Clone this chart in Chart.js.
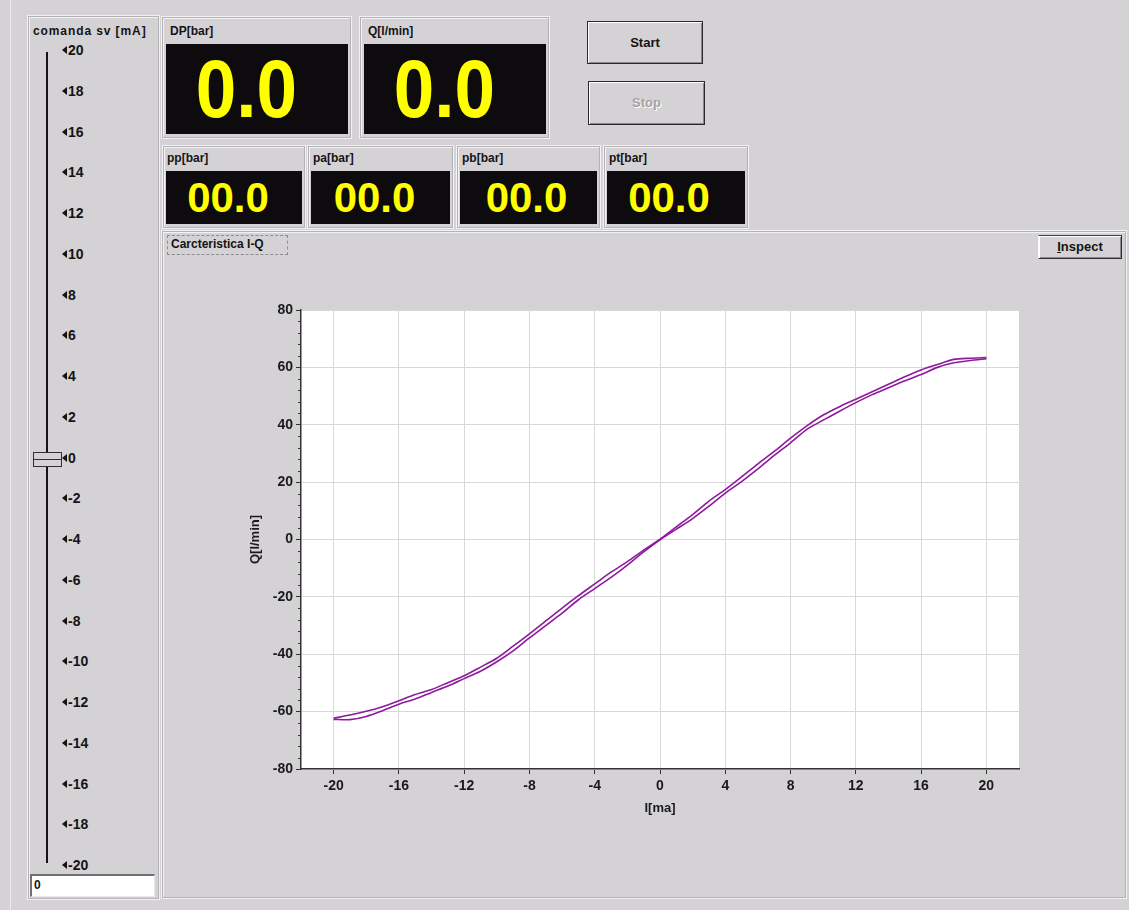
<!DOCTYPE html>
<html>
<head>
<meta charset="utf-8">
<script src="https://cdn.jsdelivr.net/npm/chart.js@4.4.0/dist/chart.umd.min.js"></script>
<style>
  body { margin: 0; width: 1129px; height: 910px; background: #d4d2d5; position: relative; overflow: hidden;
         font-family: "Liberation Sans", Arial, sans-serif; font-weight: bold; color: #141414; }
  .abs { position: absolute; box-sizing: border-box; }
  .frame { border: 1px solid #b4b2b6; box-shadow: 0 0 0 1px #f2f1f3, inset 1px 1px 0 #f2f1f3; }
  .lbl { font-size: 12px; }
  .screen { background: #0d0b0d; color: #ffff00; text-align: center; overflow: hidden; }
  .big { font-size: 81px; line-height: 90px; display: inline-block; transform: scaleX(0.9); }
  .small { font-size: 42px; line-height: 53px; }
  .btn { border: 1px solid #2a2a2a; box-shadow: inset 1px 1px 0 #fff, inset -1px -1px 0 #8a888c;
         font-size: 13px; text-align: center; background: #d4d2d5; }
  .tick { font-size: 14px; left: 62px; height: 16px; line-height: 16px; }
  .tri { display: inline-block; width: 0; height: 0; border-top: 4px solid transparent; border-bottom: 4px solid transparent;
         border-right: 5px solid #141414; margin-right: 1px; vertical-align: 1px; }
</style>
</head>
<body>
<div class="abs" style="left:10px;top:0;width:1px;height:910px;background:#ecebed"></div>

<!-- slider panel -->
<div class="abs frame" style="left:28px;top:16px;width:131px;height:883px"></div>
<div class="abs lbl" style="left:33px;top:24px;letter-spacing:0.9px">comanda sv [mA]</div>
<div class="abs" style="left:46px;top:52px;width:2px;height:811px;background:#141414"></div>
<div id="sliderTicks"></div>
<div class="abs" style="left:33px;top:452px;width:29px;height:15px;border:1px solid #303030;background:#d4d2d5">
  <div style="position:absolute;left:0;right:0;top:6px;height:1px;background:#303030"></div>
</div>
<div class="abs" style="left:30px;top:874px;width:125px;height:23px;background:#fff;border-top:2px solid #707070;border-left:2px solid #707070;border-bottom:1px solid #e8e8e8;border-right:1px solid #e8e8e8;font-size:12px;line-height:19px;padding-left:2px">0</div>

<!-- big displays -->
<div class="abs frame" style="left:162px;top:17px;width:189px;height:121px"></div>
<div class="abs lbl" style="left:170px;top:24px">DP[bar]</div>
<div class="abs screen" style="left:166px;top:44px;width:182px;height:90px"><span class="big" style="margin-left:-22px">0.0</span></div>

<div class="abs frame" style="left:360px;top:17px;width:189px;height:121px"></div>
<div class="abs lbl" style="left:368px;top:24px">Q[l/min]</div>
<div class="abs screen" style="left:364px;top:44px;width:182px;height:90px"><span class="big" style="margin-left:-22px">0.0</span></div>

<div class="abs btn" style="left:587px;top:21px;width:116px;height:43px;line-height:41px">Start</div>
<div class="abs btn" style="left:588px;top:81px;width:117px;height:44px;line-height:42px;color:#a4a2a6;text-shadow:1px 1px 0 #fff">Stop</div>

<!-- small displays -->
<div class="abs frame" style="left:163px;top:146px;width:142px;height:82px"></div>
<div class="abs lbl" style="left:167px;top:151px">pp[bar]</div>
<div class="abs screen small" style="left:166px;top:171px;width:136px;height:53px;padding-right:12px">00.0</div>

<div class="abs frame" style="left:308px;top:146px;width:145px;height:82px"></div>
<div class="abs lbl" style="left:313px;top:151px">pa[bar]</div>
<div class="abs screen small" style="left:311px;top:171px;width:139px;height:53px;padding-right:12px">00.0</div>

<div class="abs frame" style="left:457px;top:146px;width:143px;height:82px"></div>
<div class="abs lbl" style="left:462px;top:151px">pb[bar]</div>
<div class="abs screen small" style="left:460px;top:171px;width:137px;height:53px;padding-right:4px">00.0</div>

<div class="abs frame" style="left:604px;top:146px;width:144px;height:82px"></div>
<div class="abs lbl" style="left:609px;top:151px">pt[bar]</div>
<div class="abs screen small" style="left:607px;top:171px;width:138px;height:53px;padding-right:14px">00.0</div>

<!-- chart container -->
<div class="abs frame" style="left:162px;top:231px;width:964px;height:667px"></div>
<div class="abs lbl" style="left:167px;top:235px;width:121px;height:20px;border:1px dashed #8e8c90;line-height:17px;padding-left:3px">Carcteristica I-Q</div>
<div class="abs btn" style="left:1038px;top:235px;width:84px;height:24px;line-height:22px;border-color:#404040 #303030 #303030 #f8f8f8"><u>I</u>nspect</div>

<canvas id="chart" class="abs" width="900" height="560" style="left:200px;top:290px"></canvas>

<script>
// Slider scale (comanda sv [mA])
const sliderLabels = [20, 18, 16, 14, 12, 10, 8, 6, 4, 2, 0, -2, -4, -6, -8, -10, -12, -14, -16, -18, -20];

// Characteristic I-Q: current [mA] and flow [l/min], two branches of the loop
const currentMA = [-20, -19, -18, -17, -16, -15, -14, -13, -12, -11, -10, -9, -8, -7, -6, -5, -4, -3, -2, -1,
  0, 1, 2, 3, 4, 5, 6, 7, 8, 9, 10, 11, 12, 13, 14, 15, 16, 17, 18, 19, 20];
const flowUp = [-62.3, -61.2, -59.9, -58.3, -56.2, -54.0, -52.3, -49.9, -47.5, -44.5, -41.4, -37.2, -32.9, -28.4,
  -23.9, -19.6, -15.5, -11.4, -7.7, -3.7, 0.1, 4.4, 8.7, 13.4, 17.4, 21.8, 26.4, 30.7, 35.3, 39.6, 43.4, 46.3,
  48.9, 51.5, 54.1, 56.7, 59.1, 61.0, 62.8, 63.2, 63.4];
const flowDown = [-62.7, -62.8, -61.7, -59.7, -57.4, -55.6, -53.3, -51.1, -48.5, -45.9, -42.6, -38.8, -34.3, -30.0,
  -25.7, -21.0, -17.1, -13.2, -8.9, -4.3, -0.1, 3.6, 7.3, 11.6, 16.2, 20.2, 24.6, 29.3, 33.7, 38.4, 41.6, 44.7,
  47.7, 50.5, 52.9, 55.3, 57.5, 60.0, 61.6, 62.4, 63.0];

// Axis ticks
const currentTicks = [-20, -16, -12, -8, -4, 0, 4, 8, 12, 16, 20];
const I_MIN = -22, I_MAX = 22;
const Q_MIN = -80, Q_MAX = 80, Q_STEP = 20, Q_MINOR = 4;

// Slider tick labels
const holder = document.getElementById('sliderTicks');
sliderLabels.forEach(function(v, i) {
  const d = document.createElement('div');
  d.className = 'abs tick';
  d.style.top = (42 + i * 40.75) + 'px';
  d.innerHTML = '<span class="tri"></span>' + v;
  holder.appendChild(d);
});

const FONT = '"Liberation Sans", Arial, sans-serif';
const PURPLE = '#8d1a9c';

// White plot area
const plotBackground = {
  id: 'plotBackground',
  beforeDraw(chart) {
    const a = chart.chartArea, ctx = chart.ctx;
    ctx.save();
    ctx.fillStyle = '#ffffff';
    ctx.fillRect(a.left, a.top, a.right - a.left, a.bottom - a.top);
    ctx.restore();
  }
};

// Short minor ticks on the Q axis
const minorTicks = {
  id: 'minorTicks',
  afterDraw(chart) {
    const y = chart.scales.y, ctx = chart.ctx;
    ctx.save();
    ctx.strokeStyle = '#333';
    ctx.lineWidth = 1;
    for (let v = Q_MIN; v <= Q_MAX; v += Q_MINOR) {
      if (v % Q_STEP === 0) continue;
      const py = Math.round(y.getPixelForValue(v)) + 0.5;
      ctx.beginPath();
      ctx.moveTo(y.right - 3, py);
      ctx.lineTo(y.right, py);
      ctx.stroke();
    }
    ctx.restore();
  }
};

function branch(values, name) {
  return {
    label: name,
    data: currentMA.map(function(x, i) { return { x: x, y: values[i] }; }),
    showLine: true,
    borderColor: PURPLE,
    borderWidth: 1.6,
    pointRadius: 0,
    tension: 0.25
  };
}

const tickFont = { family: FONT, size: 14, weight: 'bold' };
const titleFont = { family: FONT, size: 13, weight: 'bold' };

new Chart(document.getElementById('chart').getContext('2d'), {
  type: 'scatter',
  data: { datasets: [branch(flowUp, 'salita'), branch(flowDown, 'discesa')] },
  options: {
    responsive: false,
    animation: false,
    layout: { padding: { top: 20, right: 81, left: 0, bottom: 0 } },
    plugins: { legend: { display: false }, tooltip: { enabled: false } },
    scales: {
      x: {
        type: 'linear', min: I_MIN, max: I_MAX,
        afterBuildTicks(scale) { scale.ticks = currentTicks.map(function(v) { return { value: v }; }); },
        ticks: { color: '#1a1a1a', font: tickFont, padding: 4, maxRotation: 0 },
        grid: { color: '#d8d8d8', tickColor: '#333', tickLength: 5 },
        border: { color: '#333', width: 1.5 },
        title: { display: true, text: 'I[ma]', color: '#1a1a1a', font: titleFont, padding: { top: 0, bottom: 34 } },
        afterFit(scale) { scale.height = 81; }
      },
      y: {
        type: 'linear', min: Q_MIN, max: Q_MAX,
        ticks: { stepSize: Q_STEP, color: '#1a1a1a', font: tickFont, padding: 3 },
        grid: { color: '#d8d8d8', tickColor: '#333', tickLength: 5 },
        border: { color: '#333', width: 1.5 },
        title: { display: true, text: 'Q[l/min]', color: '#1a1a1a', font: titleFont, padding: { top: 48, bottom: 0 } },
        afterFit(scale) { scale.width = 101; }
      }
    }
  },
  plugins: [plotBackground, minorTicks]
});
</script>
</body>
</html>
